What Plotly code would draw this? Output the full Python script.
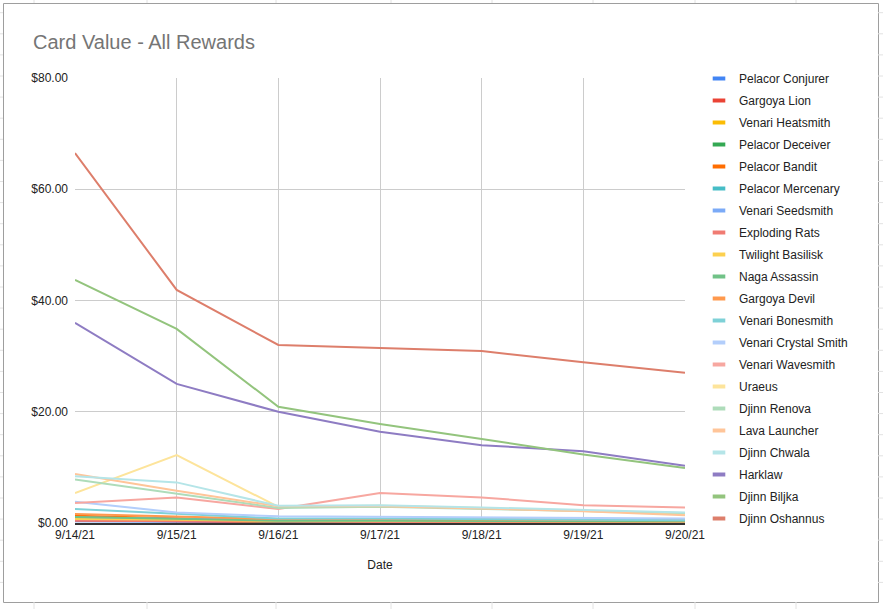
import plotly.graph_objects as go

dates = ["9/14/21", "9/15/21", "9/16/21", "9/17/21", "9/18/21", "9/19/21", "9/20/21"]

pelacor_conjurer = [0.3, 0.2, 0.1, 0.1, 0.1, 0.1, 0.1]
gargoya_lion = [0.5, 0.3, 0.15, 0.15, 0.12, 0.1, 0.1]
venari_heatsmith = [0.6, 0.4, 0.3, 0.3, 0.25, 0.2, 0.2]
pelacor_deceiver = [0.9, 0.5, 0.2, 0.2, 0.2, 0.15, 0.15]
pelacor_bandit = [1.3, 0.9, 0.4, 0.4, 0.35, 0.3, 0.3]
pelacor_mercenary = [0.8, 0.5, 0.3, 0.3, 0.25, 0.2, 0.2]
venari_seedsmith = [1.0, 0.8, 0.6, 0.7, 0.6, 0.5, 0.5]
exploding_rats = [0.4, 0.3, 0.2, 0.2, 0.2, 0.15, 0.15]
twilight_basilisk = [0.7, 0.6, 0.35, 0.35, 0.3, 0.3, 0.25]
naga_assassin = [1.1, 0.7, 0.4, 0.4, 0.35, 0.3, 0.3]
gargoya_devil = [1.6, 1.2, 0.7, 0.7, 0.6, 0.55, 0.5]
venari_bonesmith = [2.5, 1.6, 0.8, 0.8, 0.7, 0.6, 0.5]
venari_crystal_smith = [3.8, 1.9, 1.2, 1.1, 1.0, 0.9, 0.8]
venari_wavesmith = [3.6, 4.6, 2.5, 5.4, 4.6, 3.2, 2.8]
uraeus = [5.4, 12.2, 2.9, 3.1, 2.7, 2.2, 1.6]
djinn_renova = [7.8, 5.3, 2.7, 2.9, 2.5, 2.2, 1.8]
lava_launcher = [8.8, 5.8, 3.0, 3.0, 2.6, 2.1, 1.4]
djinn_chwala = [8.4, 7.3, 3.1, 3.2, 2.8, 2.4, 1.9]
harklaw = [36.0, 25.0, 20.0, 16.4, 14.0, 12.9, 10.3]
djinn_biljka = [43.7, 34.9, 20.9, 17.8, 15.1, 12.3, 9.9]
djinn_oshannus = [66.5, 41.9, 32.0, 31.4, 30.9, 28.9, 27.0]

series_names = [
    "Pelacor Conjurer", "Gargoya Lion", "Venari Heatsmith", "Pelacor Deceiver",
    "Pelacor Bandit", "Pelacor Mercenary", "Venari Seedsmith", "Exploding Rats",
    "Twilight Basilisk", "Naga Assassin", "Gargoya Devil", "Venari Bonesmith",
    "Venari Crystal Smith", "Venari Wavesmith", "Uraeus", "Djinn Renova",
    "Lava Launcher", "Djinn Chwala", "Harklaw", "Djinn Biljka", "Djinn Oshannus",
]
series_values = [
    pelacor_conjurer, gargoya_lion, venari_heatsmith, pelacor_deceiver,
    pelacor_bandit, pelacor_mercenary, venari_seedsmith, exploding_rats,
    twilight_basilisk, naga_assassin, gargoya_devil, venari_bonesmith,
    venari_crystal_smith, venari_wavesmith, uraeus, djinn_renova,
    lava_launcher, djinn_chwala, harklaw, djinn_biljka, djinn_oshannus,
]
colors = [
    "#4285f4", "#ea4335", "#fbbc04", "#34a853", "#ff6d01", "#46bdc6",
    "#7baaf7", "#f07b72", "#fcd04f", "#71c287", "#ff994d", "#7ed1d7",
    "#b3cefb", "#f7a7a0", "#fde49b", "#aedcba", "#ffc599", "#b5e5e8",
    "#8e7cc3", "#93c47d", "#dd7e6b",
]

W, H = 883, 609
L, R, T, B = 75, 685, 78, 523

def px2x(px):
    return (px - L) / (R - L)

def px2y(py):
    return (B - py) / (B - T)

fig = go.Figure()
for name, vals, col in zip(series_names, series_values, colors):
    fig.add_trace(go.Scatter(
        x=dates, y=vals, mode="lines", name=name,
        line=dict(color=col, width=2), showlegend=False,
        hovertemplate="%{x}: $%{y:.2f}<extra>" + name + "</extra>",
    ))
for name, col in zip(series_names, colors):
    fig.add_trace(go.Scatter(
        x=[None], y=[None], mode="markers", name=name,
        marker=dict(symbol="line-ew", size=9, color=col,
                    line=dict(color=col, width=4)),
        showlegend=True, legendgroup=name, hoverinfo="skip",
    ))

shapes = []
cell = "#e2e2e2"
# spreadsheet cell lines outside the chart frame
for cx in [34, 147, 276, 391, 492, 593, 695, 796]:
    shapes.append(dict(type="line", xref="paper", yref="paper",
                       x0=px2x(cx), x1=px2x(cx), y0=px2y(602), y1=px2y(609),
                       line=dict(color=cell, width=1)))
    shapes.append(dict(type="line", xref="paper", yref="paper",
                       x0=px2x(cx), x1=px2x(cx), y0=px2y(0), y1=px2y(3),
                       line=dict(color=cell, width=1)))
k = 0
while 12.7 + 21.1 * k < 600:
    ry = 12.7 + 21.1 * k
    shapes.append(dict(type="line", xref="paper", yref="paper",
                       x0=px2x(878), x1=px2x(883), y0=px2y(ry), y1=px2y(ry),
                       line=dict(color=cell, width=1)))
    shapes.append(dict(type="line", xref="paper", yref="paper",
                       x0=px2x(0), x1=px2x(3), y0=px2y(ry), y1=px2y(ry),
                       line=dict(color=cell, width=1)))
    k += 1
# chart frame
shapes.append(dict(type="rect", xref="paper", yref="paper",
                   x0=px2x(3.5), x1=px2x(878.5), y0=px2y(602.5), y1=px2y(3.5),
                   line=dict(color="#9e9e9e", width=1), layer="below"))

fig.update_layout(
    width=W, height=H,
    margin=dict(l=L, r=W - R, t=T, b=H - B, pad=0, autoexpand=False),
    paper_bgcolor="white", plot_bgcolor="white",
    font=dict(family="Liberation Sans, Arial, sans-serif", size=12, color="#222222"),
    title=dict(text="Card Value - All Rewards", x=33 / W, xref="container",
               xanchor="left", y=1 - 42 / H, yref="container", yanchor="middle",
               font=dict(size=20, color="#757575")),
    xaxis=dict(type="category", range=[0, 6], showgrid=True, gridcolor="#cccccc",
               gridwidth=1, showline=True, linecolor="#333333", linewidth=1.5,
               ticks="", tickfont=dict(size=12, color="#222222"),
               title=dict(text="Date", standoff=19, font=dict(size=12, color="#222222")),
               zeroline=False, fixedrange=True),
    yaxis=dict(range=[0, 80], dtick=20, tickprefix="$", tickformat=".2f",
               showgrid=True, gridcolor="#cccccc", gridwidth=1, zeroline=False,
               showline=False, ticks="", ticklabelstandoff=6,
               tickfont=dict(size=12, color="#222222"), fixedrange=True),
    legend=dict(x=px2x(699), xanchor="left", y=px2y(64), yanchor="top",
                maxheight=560,
                font=dict(size=12, color="#222222"), tracegroupgap=3,
                itemwidth=30, bgcolor="rgba(0,0,0,0)"),
    shapes=shapes,
    showlegend=True,
)

fig.write_html("out.html")
